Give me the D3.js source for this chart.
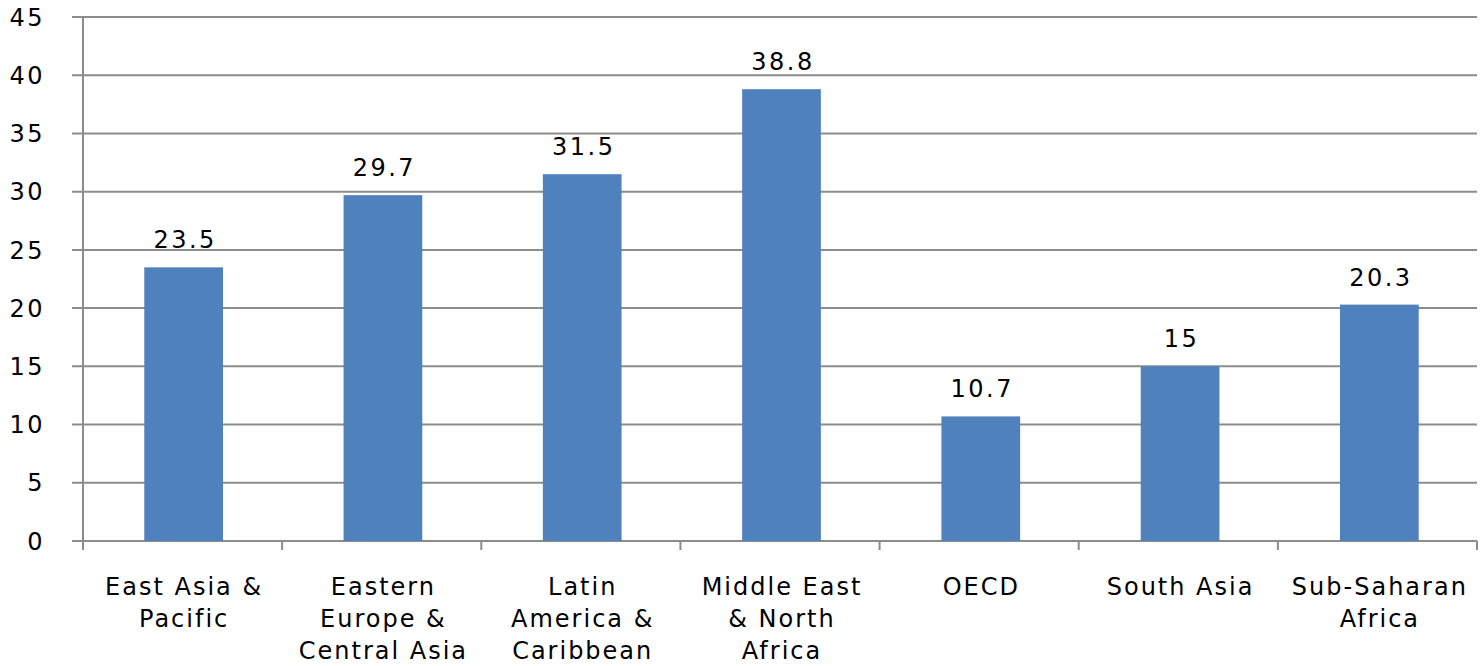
<!DOCTYPE html>
<html>
<head>
<meta charset="utf-8">
<script src="https://cdn.jsdelivr.net/npm/d3@7"></script>
<style>
  body { margin: 0; background: #fff; }
  text { font-family: "DejaVu Sans", sans-serif; fill: #000; }
</style>
</head>
<body>
<div id="chart"></div>
<script>
const categories = [
    ["East Asia &", "Pacific"],
    ["Eastern", "Europe &", "Central Asia"],
    ["Latin", "America &", "Caribbean"],
    ["Middle East", "& North", "Africa"],
    ["OECD"],
    ["South Asia"],
    ["Sub-Saharan", "Africa"]
];
const values = [23.5, 29.7, 31.5, 38.8, 10.7, 15, 20.3];
const yTicks = [0, 5, 10, 15, 20, 25, 30, 35, 40, 45];

const W = 1480, H = 666;
const margin = { top: 17, right: 3, bottom: 125, left: 83 };
const width = W - margin.left - margin.right;
const height = H - margin.top - margin.bottom;

const svg = d3.select("#chart")
    .append("svg")
    .attr("width", W)
    .attr("height", H)
    .append("g")
    .attr("transform", `translate(${margin.left}, ${margin.top})`);

const x = d3.scaleBand()
    .domain(d3.range(categories.length))
    .range([0, width])
    .paddingInner(0.605)
    .paddingOuter(0.3);

const band = width / categories.length;

const y = d3.scaleLinear()
    .domain([0, 45])
    .range([height, 0]);

// gridlines
svg.append("g")
    .selectAll("line")
    .data(yTicks)
    .enter()
    .append("line")
    .attr("x1", -11)
    .attr("x2", width)
    .attr("y1", d => y(d))
    .attr("y2", d => y(d))
    .style("stroke", "#8c8c8c")
    .style("stroke-width", 2);

// y axis line
svg.append("line")
    .attr("x1", 0).attr("x2", 0)
    .attr("y1", 0).attr("y2", height + 9)
    .style("stroke", "#8c8c8c")
    .style("stroke-width", 2);

// y labels
svg.append("g")
    .selectAll("text")
    .data(yTicks)
    .enter()
    .append("text")
    .attr("x", -38)
    .attr("y", d => y(d))
    .attr("dy", "0.36em")
    .attr("text-anchor", "end")
    .style("font-size", "24px")
    .style("letter-spacing", "2.5px")
    .text(d => d);

// x tick marks at category boundaries
svg.append("g")
    .selectAll("line")
    .data(d3.range(categories.length + 1))
    .enter()
    .append("line")
    .attr("x1", i => i * band)
    .attr("x2", i => i * band)
    .attr("y1", height)
    .attr("y2", height + 9)
    .style("stroke", "#8c8c8c")
    .style("stroke-width", 2);

// bars
svg.selectAll(".bar")
    .data(values)
    .enter()
    .append("rect")
    .attr("class", "bar")
    .attr("x", (d, i) => x(i) + 1.5)
    .attr("y", d => y(d))
    .attr("width", x.bandwidth())
    .attr("height", d => height - y(d))
    .attr("fill", "#4f81bd");

// value labels
svg.selectAll(".label")
    .data(values)
    .enter()
    .append("text")
    .attr("x", (d, i) => x(i) + x.bandwidth() / 2 + 3)
    .attr("y", d => y(d) - 19)
    .attr("text-anchor", "middle")
    .style("font-size", "24px")
    .style("letter-spacing", "2.5px")
    .text(d => d);

// category labels
const cat = svg.selectAll(".cat")
    .data(categories)
    .enter()
    .append("text")
    .attr("class", "cat")
    .attr("text-anchor", "middle")
    .style("font-size", "24px")
    .style("letter-spacing", "2px");

cat.selectAll("tspan")
    .data((d, i) => d.map(t => ({ t, i })))
    .enter()
    .append("tspan")
    .attr("x", d => x(d.i) + x.bandwidth() / 2 + 2)
    .attr("y", (d, j) => height + 54 + j * 32)
    .text(d => d.t);
</script>
</body>
</html>
